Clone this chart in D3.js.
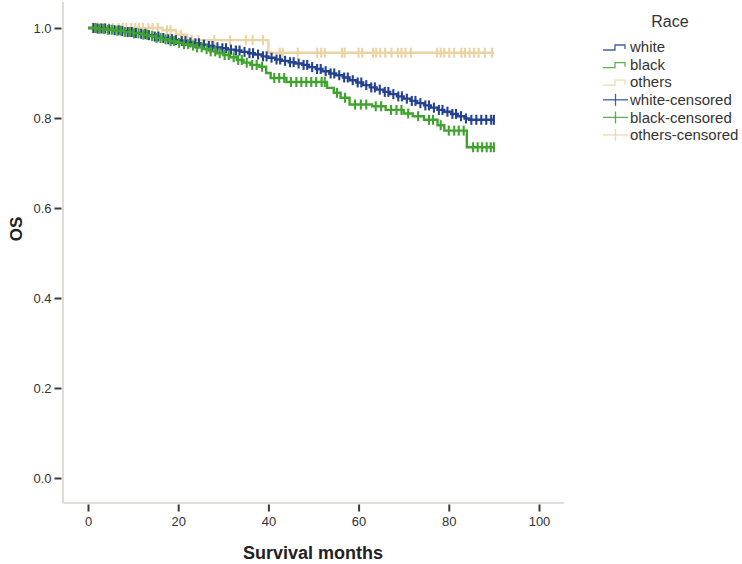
<!DOCTYPE html>
<html><head><meta charset="utf-8">
<script src="https://cdn.jsdelivr.net/npm/d3@7/dist/d3.min.js"></script>
<style>html,body{margin:0;padding:0;background:#fff;}svg{display:block;font-family:"Liberation Sans",Arial,sans-serif;}</style>
</head><body><svg id="chart" width="742" height="564"></svg>
<script>
// ---- data ----
const xTicks = [0, 20, 40, 60, 80, 100];
const yTicks = [0.0, 0.2, 0.4, 0.6, 0.8, 1.0];
const groups = ["white", "black", "others"];
const legendLabels = ["white", "black", "others", "white-censored", "black-censored", "others-censored"];
const endMonth = 90;

const whiteMonths = [0,2,4,5.5,7,8.5,10,11.5,13,14.5,16,17.5,19,20.5,22,23.5,25,26.5,28,29.5,31,32.5,34,35.5,37,38.5,40,41.5,43,44.5,46,47.5,49,50.5,52,53.5,55,56.5,58,59.5,61,62.5,64,65.5,67,68.5,70,71.5,73,74.5,76,77.5,79,80.5,82,83.5,84.5];
const whiteSurv = [1.0,0.999,0.997,0.995,0.993,0.991,0.989,0.987,0.984,0.981,0.978,0.975,0.973,0.971,0.968,0.966,0.963,0.960,0.957,0.955,0.952,0.950,0.947,0.944,0.941,0.937,0.934,0.930,0.927,0.924,0.921,0.918,0.913,0.909,0.904,0.899,0.895,0.890,0.884,0.879,0.873,0.868,0.863,0.858,0.853,0.848,0.843,0.838,0.833,0.828,0.823,0.818,0.814,0.809,0.804,0.799,0.796];

const blackMonths = [0,2,4,6,8,10,12,13.5,15,16.5,18,19.5,21,22.5,24,25.5,27,28.5,30,31.5,33,34.5,36,38,39.5,40.5,44,53,54.5,56,58,63,66,70,72,74.5,77.5,79,84];
const blackSurv = [1.0,0.998,0.996,0.994,0.991,0.988,0.985,0.982,0.978,0.975,0.971,0.967,0.964,0.961,0.957,0.953,0.948,0.944,0.940,0.935,0.929,0.923,0.918,0.914,0.900,0.889,0.880,0.867,0.856,0.845,0.830,0.826,0.818,0.810,0.804,0.796,0.784,0.772,0.735];

const othersMonths = [0,16.5,19.5,22,40];
const othersSurv = [1.0,0.995,0.985,0.973,0.945];

const whiteCensored = [1.2,2.1,3.0,3.8,4.7,5.9,6.8,7.6,8.8,9.7,10.6,11.8,12.7,13.5,14.8,15.6,16.7,17.8,18.6,19.5,20.8,21.6,22.7,23.8,24.6,25.7,26.8,27.6,28.7,29.8,30.6,31.7,32.8,33.6,34.7,35.8,36.6,37.7,38.8,39.6,40.7,41.8,42.6,43.7,44.8,45.6,46.7,47.8,48.6,49.7,50.8,51.6,52.7,53.8,54.6,55.7,56.8,57.6,58.7,59.8,60.6,61.7,62.8,63.6,64.7,65.8,66.6,67.7,68.8,69.6,70.7,71.8,72.6,73.7,74.8,75.6,76.7,77.8,78.6,79.7,80.8,81.6,82.7,83.8,85.0,86.1,87.2,88.3,89.4,90.0];
const blackCensored = [1.6,2.5,3.5,4.4,5.3,6.5,7.3,8.2,9.3,10.2,11.2,12.3,13.1,14.2,15.2,16.1,17.2,18.3,19.1,20.2,21.3,22.2,23.3,24.2,25.2,26.3,27.2,28.2,29.2,30.3,31.2,32.3,33.3,34.1,35.2,36.4,37.4,38.6,41.3,42.4,43.5,45.0,46.2,47.3,48.4,49.5,50.6,51.8,52.5,55.2,57.0,59.2,60.5,61.7,63.8,65.0,67.2,68.4,69.5,71.0,73.2,75.6,76.5,78.2,80.0,81.2,82.2,83.3,85.4,86.4,87.4,88.4,89.3,90.0];
const othersCensored = [1.0,1.8,2.7,3.5,4.6,5.5,6.8,7.7,8.5,9.6,10.5,11.3,12.2,13.4,14.3,15.5,17.5,18.3,20.6,23.0,24.5,28.0,31.5,35.0,36.5,38.8,42.5,43.2,46.5,50.8,51.7,52.5,56.3,56.9,60.0,60.8,63.2,63.9,64.8,65.9,67.3,68.7,69.5,70.4,71.6,77.4,78.2,79.0,80.1,81.2,82.8,83.6,84.6,85.6,86.6,88.0,89.6];

const colors = {white: "#24428f", black: "#40a32f", others: "#ebd3a4"};

// ---- chart ----
const svg = d3.select("#chart");
svg.append("rect").attr("width", 742).attr("height", 564).attr("fill", "#fff");

const x = d3.scaleLinear().domain([0, 100]).range([88, 539]);
const y = d3.scaleLinear().domain([0, 1]).range([478, 28]);
const axisColor = "#d8d2ce";
const frameLeft = 63, frameBottom = 503, frameRight = 564, frameTop = 2;

// axis lines
svg.append("line").attr("x1", frameLeft).attr("x2", frameLeft).attr("y1", frameTop).attr("y2", frameBottom)
  .attr("stroke", axisColor).attr("stroke-width", 1.6);
svg.append("line").attr("x1", frameLeft).attr("x2", frameRight).attr("y1", frameBottom).attr("y2", frameBottom)
  .attr("stroke", axisColor).attr("stroke-width", 1.6);

// x axis
const xAxis = d3.axisBottom(x).tickValues(xTicks).tickSize(7).tickPadding(5).tickFormat(d3.format("d"));
const gx = svg.append("g").attr("transform", `translate(0,${frameBottom + 1.5})`).call(xAxis);
gx.select(".domain").remove();
gx.selectAll(".tick line").attr("stroke", "#3a3a3a").attr("stroke-width", 2);
gx.selectAll(".tick text").attr("fill", "#333").attr("font-size", 13).attr("font-family", "Liberation Sans, Arial, sans-serif");

// y axis
const yAxis = d3.axisLeft(y).tickValues(yTicks).tickSize(7).tickPadding(3).tickFormat(d3.format(".1f"));
const gy = svg.append("g").attr("transform", `translate(${frameLeft - 1.5},0)`).call(yAxis);
gy.select(".domain").remove();
gy.selectAll(".tick line").attr("stroke", "#3a3a3a").attr("stroke-width", 2);
gy.selectAll(".tick text").attr("fill", "#333").attr("font-size", 13).attr("font-family", "Liberation Sans, Arial, sans-serif");

// axis titles
svg.append("text").attr("x", 313).attr("y", 559).attr("text-anchor", "middle")
  .attr("font-size", 18).attr("font-weight", "bold").attr("fill", "#222").text("Survival months");
svg.append("text").attr("transform", "translate(22,229) rotate(-90)").attr("text-anchor", "middle")
  .attr("font-size", 17).attr("font-weight", "bold").attr("fill", "#222").text("OS");

// curves
const series = {
  white: {m: whiteMonths, s: whiteSurv, c: whiteCensored},
  black: {m: blackMonths, s: blackSurv, c: blackCensored},
  others: {m: othersMonths, s: othersSurv, c: othersCensored}
};
function survAt(g, t) {
  const d = series[g];
  let v = d.s[0];
  for (let i = 0; i < d.m.length; i++) { if (d.m[i] <= t) v = d.s[i]; }
  return v;
}
const line = d3.line().x(d => x(d[0])).y(d => y(d[1])).curve(d3.curveStepAfter);
const drawOrder = ["others", "white", "black"];
drawOrder.forEach(g => {
  const d = series[g];
  const pts = d.m.map((m, i) => [m, d.s[i]]);
  pts.push([endMonth, d.s[d.s.length - 1]]);
  svg.append("path").datum(pts).attr("d", line).attr("fill", "none")
    .attr("stroke", colors[g]).attr("stroke-width", 2.4);
  svg.append("g").selectAll("line").data(d.c).join("line")
    .attr("x1", t => x(t)).attr("x2", t => x(t))
    .attr("y1", t => y(survAt(g, t)) - 5).attr("y2", t => y(survAt(g, t)) + 5)
    .attr("stroke", colors[g]).attr("stroke-width", 2.1);
});

// legend
svg.append("text").attr("x", 670).attr("y", 27).attr("text-anchor", "middle")
  .attr("font-size", 16).attr("fill", "#333").text("Race");
const legY = d3.scalePoint().domain(legendLabels).range([47, 135]);
legendLabels.forEach((lab, i) => {
  const cy = legY(lab);
  const g = groups[i % 3];
  const col = colors[g];
  if (i < 3) {
    svg.append("path").attr("d", `M603,${cy + 3}H615V${cy - 2}H625V${cy + 2}`)
      .attr("fill", "none").attr("stroke", col).attr("stroke-width", 1.3).attr("opacity", 0.85);
  } else {
    svg.append("line").attr("x1", 603).attr("x2", 628).attr("y1", cy).attr("y2", cy)
      .attr("stroke", col).attr("stroke-width", 1.3).attr("opacity", 0.85);
    svg.append("line").attr("x1", 615.5).attr("x2", 615.5).attr("y1", cy - 6).attr("y2", cy + 6)
      .attr("stroke", col).attr("stroke-width", 1.3).attr("opacity", 0.85);
  }
  svg.append("text").attr("x", 630).attr("y", cy).attr("dy", "0.35em")
    .attr("font-size", 15).attr("fill", "#333").text(lab);
});
</script></body></html>
